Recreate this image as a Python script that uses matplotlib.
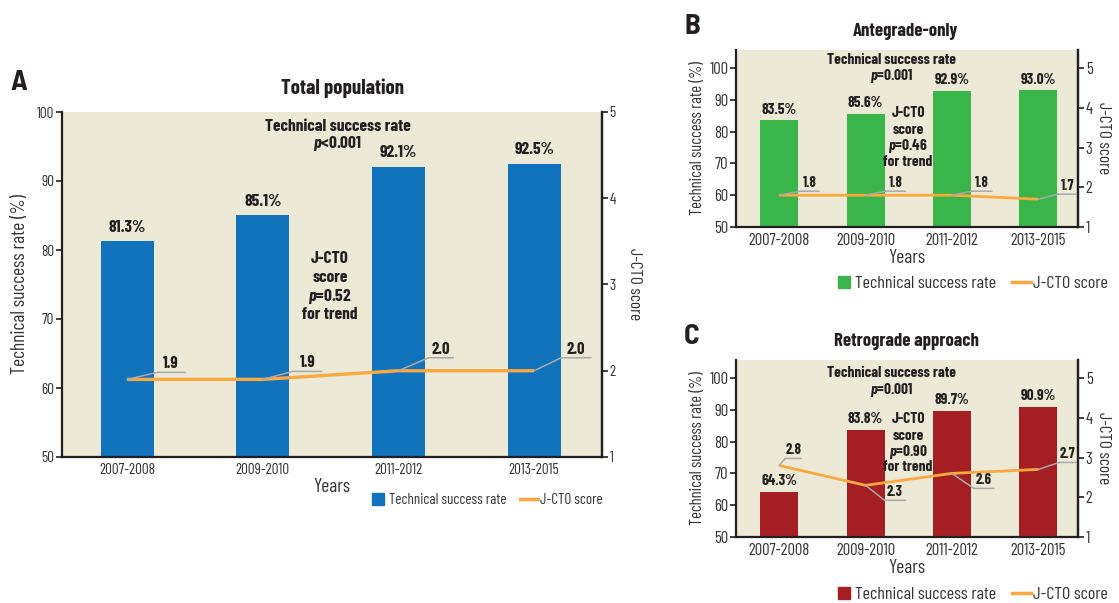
import numpy as np
import matplotlib
matplotlib.use("Agg")
import matplotlib.pyplot as plt
from matplotlib.lines import Line2D
from matplotlib.transforms import offset_copy

FONT = ['Barlow Condensed', 'DejaVu Sans']
plt.rcParams['font.family'] = FONT
plt.rcParams['mathtext.fontset'] = 'custom'
plt.rcParams['mathtext.it'] = 'Barlow Condensed:italic:weight=bold'
plt.rcParams['mathtext.rm'] = 'Barlow Condensed:weight=bold'

# ---------------- data ----------------
years = ['2007-2008', '2009-2010', '2011-2012', '2013-2015']
total_rate = [81.3, 85.1, 92.1, 92.5]
total_jcto = [1.9, 1.9, 2.0, 2.0]
ante_rate = [83.5, 85.6, 92.9, 93.0]
ante_jcto = [1.8, 1.8, 1.8, 1.7]
retro_rate = [64.3, 83.8, 89.7, 90.9]
retro_jcto = [2.8, 2.3, 2.6, 2.7]
p_success = ['<0.001', '=0.001', '=0.001']
p_trend = ['=0.52', '=0.46', '=0.90']
titles = ['Total population', 'Antegrade-only', 'Retrograde approach']
letters = ['A', 'B', 'C']

# ---------------- style ----------------
BG = '#ECE9D6'
DARK = '#231F20'
ORANGE = '#F9A93F'
GRAY = '#A7A9AC'
COLORS = ['#1173BB', '#3AB54A', '#A51E24']

W, H = 1119, 603
fig = plt.figure(figsize=(W / 100, H / 100), dpi=100)


def rect(l, t, r, b):
    return [l / W, 1 - b / H, (r - l) / W, (b - t) / H]


def panel(pos, rates, jcto, color, title, letter, psucc, ptrend, s):
    ax = fig.add_axes(pos)
    ax2 = ax.twinx()
    x = np.arange(len(years))
    ax.set_facecolor(BG)
    bars = ax.bar(x, rates, width=s['bw'], color=color, zorder=2)
    ax.bar_label(bars, labels=[f'{v:.1f}%' for v in rates], padding=s['bpad'],
                 fontsize=s['fbar'], fontweight='bold', color=DARK)
    ax.set_xlim(*s['xlim'])
    ax.set_ylim(*s['ylim'])
    ax2.set_ylim(*s['ylim2'])
    ax.set_yticks([50, 60, 70, 80, 90, 100])
    ax2.set_yticks([1, 2, 3, 4, 5])
    ax.set_xticks(x)
    ax.set_xticklabels(years)
    for a in (ax, ax2):
        for sp in a.spines.values():
            sp.set_color(DARK)
            sp.set_linewidth(1.6)
        a.spines['top'].set_visible(False)
    ax2.spines['left'].set_visible(False)
    ax2.spines['bottom'].set_visible(False)
    ax.tick_params(axis='y', length=4, width=1.2, color=DARK, labelsize=s['ftick'], pad=1.5,
                   labelcolor='#333333')
    ax2.tick_params(axis='y', length=4, width=1.2, color=DARK, labelsize=s['ftick'], pad=1.5,
                    labelcolor='#333333')
    ax.tick_params(axis='x', length=0, labelsize=s['ftick'], pad=s['xpad'], labelcolor='#333333')
    ax.set_xlabel('Years', fontsize=s['fxlab'], labelpad=s['xlabpad'], color='#333333')
    ax.set_ylabel('Technical success rate (%)', fontsize=s['fylab'], labelpad=s['ylabpad'],
                  color='#333333')
    ax2.set_ylabel('J-CTO score', fontsize=s['fylab2'], rotation=270, va='bottom',
                   labelpad=s['ylabpad2'], color='#333333')

    ax2.plot(x, jcto, color=ORANGE, lw=s['lw'], solid_capstyle='butt', zorder=3)

    # callouts
    for xi, yi, dx, dy, w in zip(x, jcto, s['cdx'], s['cdy'], s['cw']):
        lp = dict(arrowstyle='-', color=GRAY, lw=1.1, shrinkA=0, shrinkB=0)
        ax2.annotate('', xy=(xi, yi), xytext=(dx, dy), textcoords='offset pixels', arrowprops=lp)
        tr = offset_copy(ax2.transData, fig=fig, x=dx, y=dy, units='dots')
        ax2.annotate('', xy=(xi, yi), xycoords=tr, xytext=(w, 0), textcoords='offset pixels',
                     arrowprops=lp)
        ax2.annotate(f'{yi:.1f}', xy=(xi, yi), xytext=(dx + w / 2, dy + 1),
                     textcoords='offset pixels', ha='center', va='bottom',
                     fontsize=s['fcall'], fontweight='bold', color=DARK)

    # annotations
    tx, ty1, ty2 = s['tsr']
    ax2.text(tx, ty1, 'Technical success rate', transform=ax2.transAxes, ha='center', va='center',
             fontsize=s['fann'], fontweight='bold', color=DARK)
    ax2.text(tx, ty2, '$p$' + psucc, transform=ax2.transAxes, ha='center', va='center',
             fontsize=s['fann'], fontweight='bold', color=DARK)
    jx, jys = s['jcto']
    for txt, jy in zip(['J-CTO', 'score', '$p$' + ptrend, 'for trend'], jys):
        ax2.text(jx, jy, txt, transform=ax2.transAxes, ha='center', va='center',
                 fontsize=s['fann'], fontweight='bold', color=DARK)

    ax2.text(s['title_xy'][0], s['title_xy'][1], title, transform=ax2.transAxes, ha='center',
             va='center', fontsize=s['ftitle'], fontweight='bold', color=DARK)
    fig.text(s['letter_xy'][0] / W, 1 - s['letter_xy'][1] / H, letter, ha='center', va='center',
             fontsize=21, fontweight='bold', color=DARK,
             family=['Barlow Semi Condensed', 'DejaVu Sans'])

    handles = [Line2D([], [], marker='s', ls='none', color=color, markersize=s['msz']),
               Line2D([], [], color=ORANGE, lw=2.5)]
    fig.legend(handles, ['Technical success rate', 'J-CTO score'], loc='center right',
               bbox_to_anchor=(s['leg'][0] / W, 1 - s['leg'][1] / H), ncol=2, frameon=False,
               fontsize=s['fleg'], borderpad=0, borderaxespad=0, handlelength=s['hl'],
               handletextpad=s['htp'], columnspacing=0.9, labelcolor='#333333')
    return ax, ax2


styleA = dict(bw=0.39, bpad=4.5, fbar=12.5, xlim=(-0.48, 3.5), ylim=(50, 100), ylim2=(1, 5),
              ftick=11, xpad=4, fxlab=14, xlabpad=1, fylab=14, ylabpad=6, fylab2=12.5,
              ylabpad2=8, lw=2.4, cdx=[30, 30, 30, 27], cdy=[7, 8, 13, 13], cw=[28, 29, 25, 30],
              fcall=12, fann=12.5, tsr=(0.511, 0.959, 0.910),
              jcto=(0.496, [0.574, 0.519, 0.464, 0.412]), title_xy=(0.52, 1.07), ftitle=15,
              letter_xy=(19, 82), msz=8, leg=(603, 500), fleg=10.8, htp=0.15, hl=1.2)
styleB = dict(bw=0.44, bpad=2.5, fbar=11, xlim=(-0.5, 3.46), ylim=(50, 105.66),
              ylim2=(1, 5.453), ftick=12, xpad=4, fxlab=14, xlabpad=1, fylab=12, ylabpad=3,
              fylab2=12.5, ylabpad2=2.5, lw=2.0, cdx=[21, 20, 20, 20], cdy=[4, 4, 4, 5],
              cw=[19, 20, 20, 18], fcall=10.5, fann=11, tsr=(0.456, 0.943, 0.853),
              jcto=(0.503, [0.644, 0.548, 0.458, 0.367]), title_xy=(0.497, 1.107), ftitle=13.5,
              letter_xy=(692, 27), msz=9, leg=(1108, 283), fleg=13, htp=0.1, hl=1.05)
styleC = dict(styleB)
styleC.update(cdx=[6, 19, 22, 21], cdy=[7, -15, -15, 7], cw=[16, 21, 20, 17],
              tsr=(0.456, 0.927, 0.830), jcto=(0.503, [0.667, 0.571, 0.480, 0.395]),
              letter_xy=(692, 337), leg=(1108, 594))

panel(rect(62, 112, 602, 457), total_rate, total_jcto, COLORS[0], titles[0], letters[0],
      p_success[0], p_trend[0], styleA)
panel(rect(736, 50, 1078, 227), ante_rate, ante_jcto, COLORS[1], titles[1], letters[1],
      p_success[1], p_trend[1], styleB)
panel(rect(736, 360, 1078, 537), retro_rate, retro_jcto, COLORS[2], titles[2], letters[2],
      p_success[2], p_trend[2], styleC)

fig.savefig('out.png', dpi=100, facecolor='white')
